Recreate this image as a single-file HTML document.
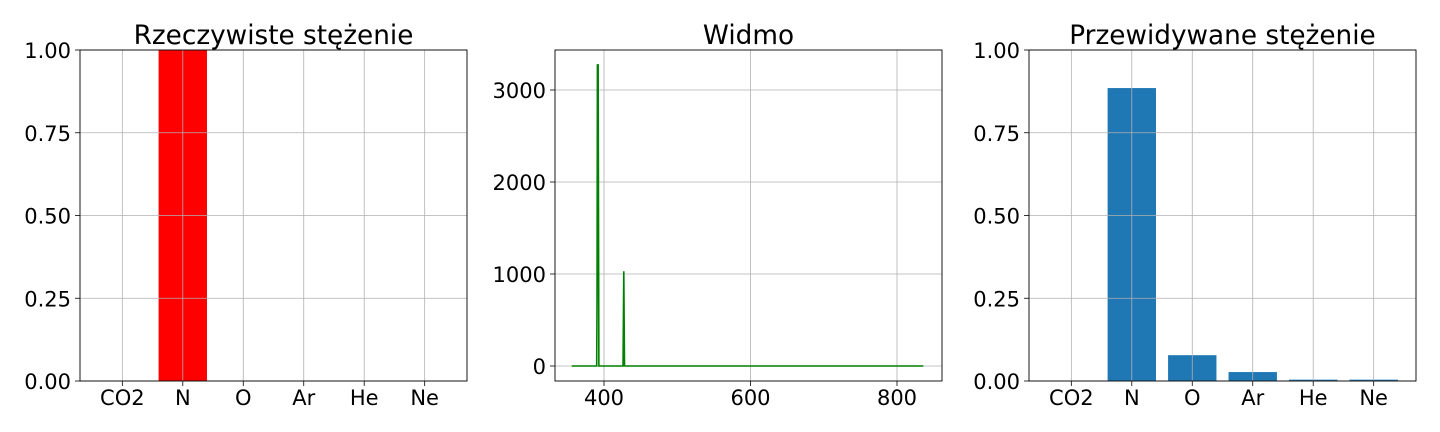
<!DOCTYPE html>
<html><head><meta charset="utf-8"><style>
body{margin:0;background:#fff;}
svg{display:block;font-family:"DejaVu Sans","Liberation Sans",sans-serif;}
</style></head><body>
<svg id="c" width="1440" height="432"></svg>
<script>
const categories=["CO2","N","O","Ar","He","Ne"];
const actualValues=[0,1,0,0,0,0];
const predictedValues=[0,0.885,0.078,0.027,0.004,0.004];
const barTicks=[0,0.25,0.5,0.75,1.0];
const barTickLabels=["0.00","0.25","0.50","0.75","1.00"];
const specX=[356,389,390,390.5,391,392,393,426,427,428,836];
const specY=[0,0,0,740,3272,3272,0,0,1030,0,0];
const specXTicks=[400,600,800];
const specYTicks=[0,1000,2000,3000];

const NS="http://www.w3.org/2000/svg";
const svg=document.getElementById('c');
function mk(tag,attrs,parent){const e=document.createElementNS(NS,tag);for(const k in attrs)e.setAttribute(k,attrs[k]);(parent||svg).appendChild(e);return e;}
function txt(s,x,y,size,anchor,parent){const t=mk('text',{x:x,y:y,'font-size':size,'text-anchor':anchor,fill:'#000'},parent);t.textContent=s;return t;}
const T=50,B=381;

function barPanel(L,R,vals,color,title,name){
  const g=mk('g',{});
  
  
  const sx=v=>L+(v+0.7)*(R-L)/6.4, sy=v=>B-v*(B-T);
  vals.forEach((v,i)=>{const r=mk('rect',{x:sx(i-0.4),y:sy(v),width:sx(0.4)-sx(-0.4),height:B-sy(v),fill:color},g);
    
    });
  categories.forEach((c,i)=>{mk('line',{x1:sx(i),x2:sx(i),y1:T,y2:B,stroke:'#b0b0b0','stroke-width':0.8},g);
    mk('line',{x1:sx(i),x2:sx(i),y1:B,y2:B+5,stroke:'#000','stroke-width':0.8},g);
    const t=txt(c,sx(i),B+24,21,'middle',g);
    
    });
  barTicks.forEach((v,i)=>{mk('line',{x1:L,x2:R,y1:sy(v),y2:sy(v),stroke:'#b0b0b0','stroke-width':0.8},g);
    mk('line',{x1:L-5,x2:L,y1:sy(v),y2:sy(v),stroke:'#000','stroke-width':0.8},g);
    const t=txt(barTickLabels[i],L-9,sy(v)+8,21,'end',g);
    
    });
  mk('rect',{x:L,y:T,width:R-L,height:B-T,fill:'none',stroke:'#000','stroke-width':0.9},g);
  const tt=txt(title,(L+R)/2,44,26.3,'middle',g);
  
  
}
barPanel(80,467,actualValues,'#ff0000','Rzeczywiste stężenie','actual-concentration-panel');
barPanel(1029,1416,predictedValues,'#1f77b4','Przewidywane stężenie','predicted-concentration-panel');

(function(){
  const L=555,R=942;
  const g=mk('g',{});
  
  
  const sx=v=>604+(v-400)*(897-604)/400, sy=v=>366-v*0.092;
  specXTicks.forEach(v=>{mk('line',{x1:sx(v),x2:sx(v),y1:T,y2:B,stroke:'#b0b0b0','stroke-width':0.8},g);
    mk('line',{x1:sx(v),x2:sx(v),y1:B,y2:B+5,stroke:'#000','stroke-width':0.8},g);
    const t=txt(String(v),sx(v),B+24,21,'middle',g);
    
    });
  specYTicks.forEach(v=>{mk('line',{x1:L,x2:R,y1:sy(v),y2:sy(v),stroke:'#b0b0b0','stroke-width':0.8},g);
    mk('line',{x1:L-5,x2:L,y1:sy(v),y2:sy(v),stroke:'#000','stroke-width':0.8},g);
    const t=txt(String(v),L-9,sy(v)+8,21,'end',g);
    
    });
  const p=mk('polyline',{points:specX.map((x,i)=>sx(x)+','+sy(specY[i])).join(' '),fill:'none',stroke:'#008000','stroke-width':1.6},g);
  
  
  mk('rect',{x:L,y:T,width:R-L,height:B-T,fill:'none',stroke:'#000','stroke-width':0.9},g);
  const tt=txt('Widmo',(L+R)/2,44,26.3,'middle',g);
  
  
})();
</script>
</body></html>
